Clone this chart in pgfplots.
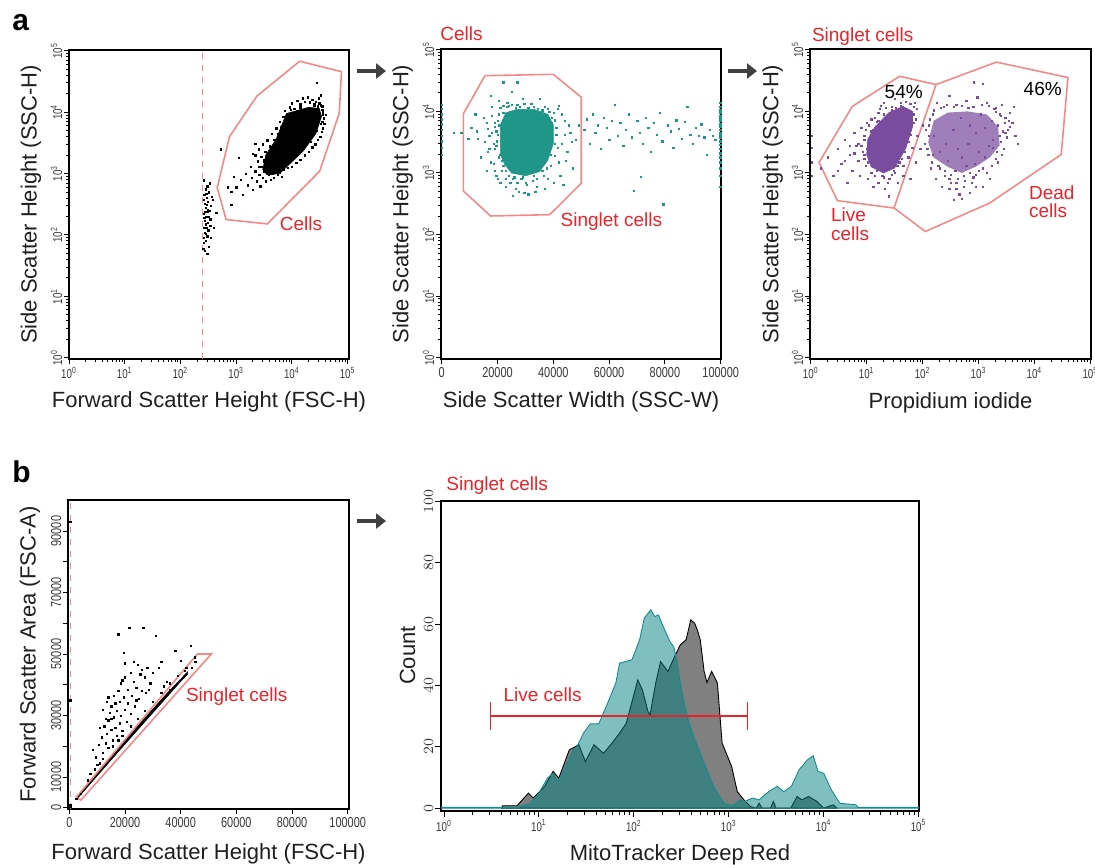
\documentclass[border=0pt]{standalone}
\usepackage{fontspec}
\setmainfont{Liberation Sans}
\newfontfamily\narrow[FakeStretch=0.76]{Liberation Sans}
\usepackage{pgfplots}
\pgfplotsset{compat=1.18}
\usetikzlibrary{arrows.meta}

\definecolor{gate}{RGB}{242,138,138}
\definecolor{lab}{RGB}{236,34,42}
\definecolor{tealpt}{RGB}{30,150,136}
\definecolor{purp}{RGB}{122,76,160}
\definecolor{hteal}{RGB}{0,128,128}
\definecolor{hedge}{RGB}{20,140,140}
\definecolor{hgray}{RGB}{128,128,128}
\definecolor{arr}{RGB}{64,64,64}

\newcommand\lt[1]{10\textsuperscript{#1}}

\pgfplotsset{
  flow/.style={
    scale only axis, anchor=south west, scaled ticks=false,
    axis line style={line width=0.9pt},
    tick align=outside, tick pos=left,
    major tick length=2.6pt, minor tick length=1.5pt,
    every tick/.append style={line width=0.45pt, black},
    tick label style={font=\narrow\fontsize{7.2}{7.2}\selectfont, text=black!78},
    yticklabel style={rotate=90, anchor=south, inner sep=0.6pt},
    xticklabel style={inner sep=1.2pt},
    label style={font=\fontsize{11}{11}\selectfont, text=black!88, inner sep=0pt},
    xlabel style={at={(axis description cs:0.5,0)}, anchor=north},
    ylabel style={anchor=south},
  },
  pts/.style={only marks, mark=square*, mark size=0.33pt, mark options={line width=0.15pt}},
  gline/.style={gate, line width=0.8pt, mark=none},
}

\begin{document}
\begin{tikzpicture}
\path[use as bounding box] (0,0) rectangle (547.5pt,-432pt);

% panel letters and arrows
\node[anchor=base west, inner sep=0, font=\bfseries\fontsize{15}{15}\selectfont] at (6pt,-15pt) {a};
\node[anchor=base west, inner sep=0, font=\bfseries\fontsize{15}{15}\selectfont] at (6pt,-241pt) {b};
\draw[arr, line width=2pt, -{Triangle[length=5pt,width=7.5pt]}] (178.5pt,-35.5pt) -- (193pt,-35.5pt);
\draw[arr, line width=2pt, -{Triangle[length=5pt,width=7.5pt]}] (364pt,-35.5pt) -- (378.5pt,-35.5pt);
\draw[arr, line width=2pt, -{Triangle[length=5pt,width=7.5pt]}] (178.5pt,-260.5pt) -- (193pt,-260.5pt);

% titles
\node[lab, anchor=base west, inner sep=0, font=\fontsize{9.5}{9.5}\selectfont] at (220pt,-20pt) {Cells};
\node[lab, anchor=base west, inner sep=0, font=\fontsize{9.5}{9.5}\selectfont] at (405.8pt,-20.5pt) {Singlet cells};
\node[lab, anchor=base west, inner sep=0, font=\fontsize{9.5}{9.5}\selectfont] at (223pt,-245pt) {Singlet cells};

% ===== a1: FSC-H vs SSC-H =====
\begin{axis}[flow, xmode=log, ymode=log, at={(34.5pt,-179.5pt)}, width=140pt, height=154.5pt,
  xmin=1, xmax=1.06e5, ymin=0.95, ymax=1.03e5,
  xtick={1,10,100,1000,10000,100000},
  xticklabels={\lt0,\lt1,\lt2,\lt3,\lt4,\lt5},
  minor xtick={2,3,4,5,6,7,8,9,20,30,40,50,60,70,80,90,200,300,400,500,600,700,800,900,
      2000,3000,4000,5000,6000,7000,8000,9000,20000,30000,40000,50000,60000,70000,80000,90000},
  ytick={1,10,100,1000,10000,100000},
  yticklabels={\lt0,\lt1,\lt2,\lt3,\lt4,\lt5},
  minor ytick={2,3,4,5,6,7,8,9,20,30,40,50,60,70,80,90,200,300,400,500,600,700,800,900,
      2000,3000,4000,5000,6000,7000,8000,9000,20000,30000,40000,50000,60000,70000,80000,90000},
  tick label style={font=\narrow\fontsize{6.4}{6.4}\selectfont},
  xlabel={Forward Scatter Height (FSC-H)}, ylabel={Side Scatter Height (SSC-H)},
  xlabel style={yshift=-16pt}, ylabel style={at={(axis description cs:-0.098,0.5)}}]
\addplot[gate, dashed, line width=0.6pt] coordinates {(250,0.95) (250,1.03e5)};
\addplot[fill=black, draw=black, line width=0.3pt] coordinates {
  (3000,1150) (3600,950) (6000,1000) (8500,1350) (15800,2300) (27000,4500)
  (34000,8500) (31000,11500) (20000,12000) (8000,9500) (5200,3600) (3400,2000) (3000,1150)};
\addplot[pts, black] coordinates {
  (1000,600) (1200,800) (1300,450) (1500,1000) (1600,650) (1800,1300) (1900,850) (2000,550)
  (2200,1100) (2300,750) (2400,1600) (2600,950) (2700,620) (2800,1300) (3000,850) (3100,1700)
  (3200,1100) (3400,750) (3600,1400) (3800,950) (4000,1200) (4200,800) (4400,1000) (4700,850)
  (5000,1100) (5500,950) (6000,1050) (6500,900) (7000,1150)
  (2200,2000) (2500,2500) (2800,1900) (3000,3000) (3300,2300) (3600,3500) (4000,2800)
  (4300,4500) (4800,3600) (5200,5500) (5600,4500) (6000,7000) (6400,5800) (7000,8500)
  (7500,10500) (8200,9000) (9000,12000) (10000,14000) (11000,11500) (12500,15500) (14000,13500)
  (15500,17000) (17000,15000) (19000,17500) (21000,14500) (23000,16000) (25000,13500)
  (27000,15000) (29000,12500) (31000,14000) (33000,13000) (35000,11000) (27500,30000)
  (33000,19000) (30000,17000) (36000,10000) (37000,8000) (38000,6500) (36000,5500)
  (34000,4800) (32000,4000) (29000,3600) (26000,3000) (23000,2700) (20000,2300) (17000,2000)
  (14000,1700) (12000,1500) (10000,1300) (8500,1250) (40000,9000) (35000,7000)
  (520,2500) (810,510) (810,310) (900,900) (700,600) (1100,1800) (2200,3100) (2000,2100)
  (3300,1300) (4500,1300) (6500,1200) (9000,1600) (12000,2000) (16000,2600) (22000,3300)
  (28000,5000) (33000,6500) (36000,9000) (35000,12500) (25000,12800) (14000,12000)
  (9500,11000) (7500,7000) (5800,4200) (4200,2400) (3200,1600) (2600,1300)};
\addplot[pts, black] coordinates {
  (255,60) (262,75) (258,90) (270,110) (265,130) (280,150) (275,170) (290,200) (260,220)
  (300,240) (285,280) (270,320) (310,350) (295,400) (265,450) (320,500) (280,560) (300,620)
  (330,700) (260,780) (350,300) (340,180) (315,120) (300,95) (285,80) (320,65) (275,55)
  (305,160) (290,130) (330,250) (360,420) (310,260) (268,190) (282,105) (296,310) (272,240)
  (340,140) (262,380) (325,200) (288,470) (300,50) (350,90) (380,380) (440,230) (400,130)};
\addplot[gline] coordinates {
  (13804,67608) (77625,45709) (70795,9550) (31623,1096) (3631,151) (661,178)
  (457,589) (759,3981) (2344,18197) (13804,67608)};
\node[lab, anchor=west, inner sep=0, font=\fontsize{9.5}{9.5}\selectfont] at (axis cs:6000,152) {Cells};
\end{axis}

% ===== a2: SSC-W vs SSC-H =====
\begin{axis}[flow, ymode=log, at={(220.5pt,-179.5pt)}, width=140pt, height=155pt,
  xmin=-250, xmax=100100, ymin=0.95, ymax=1.03e5,
  xtick={0,20000,40000,60000,80000,100000},
  xticklabels={0,20000,40000,60000,80000,100000},
  ytick={1,10,100,1000,10000,100000},
  yticklabels={\lt0,\lt1,\lt2,\lt3,\lt4,\lt5},
  minor ytick={2,3,4,5,6,7,8,9,20,30,40,50,60,70,80,90,200,300,400,500,600,700,800,900,
      2000,3000,4000,5000,6000,7000,8000,9000,20000,30000,40000,50000,60000,70000,80000,90000},
  yticklabel style={font=\narrow\fontsize{6.4}{6.4}\selectfont},
  xlabel={Side Scatter Width (SSC-W)}, ylabel={Side Scatter Height (SSC-H)},
  xlabel style={yshift=-16.3pt}, ylabel style={at={(axis description cs:-0.099,0.5)}}]
\addplot[fill=tealpt, draw=tealpt, line width=0.3pt] coordinates {
  (21000,2000) (21000,6000) (23000,9500) (27000,10800) (33000,10800) (38000,9000) (40000,6000)
  (40000,3000) (38000,1600) (35000,1050) (30000,900) (25000,1000) (22500,1400) (21000,2000)};
\addplot[pts, tealpt] coordinates {
  (13000,3600) (15000,8000) (16500,5200) (17000,2500) (18000,12000) (18500,1400) (19000,6500)
  (19500,900) (20000,4200) (20500,15000) (21000,2000) (21500,1100) (22000,9500) (23000,600)
  (23500,14000) (24000,1500) (24500,700) (25000,21000) (26000,850) (27000,13000) (27500,500)
  (28000,1200) (29000,16000) (30000,700) (31000,450) (32000,13500) (33000,900) (34000,600)
  (35000,16000) (36000,1100) (37000,12000) (38000,800) (39000,2000) (40000,9500) (41000,5500)
  (42000,1500) (43000,3000) (44000,7000) (45000,2200) (46000,4500) (47000,1200) (48000,3500)
  (49000,6000) (41500,11000) (43500,650) (12000,9000) (10500,5500) (14000,1800) (16000,1100)
  (17500,18000) (22000,30000) (27000,30000) (20000,800) (25500,430) (12500,4800) (9500,3600)
  (7000,4500) (4300,4500) (19500,2800) (20500,6000) (39500,6500) (40500,3000) (38000,11000)
  (24000,12500) (35000,1500) (28500,800) (31500,1100) (22500,2600) (18000,4500)
  (19000,2500) (19500,4800) (20000,7000) (20500,9000) (21000,11500) (22000,12500) (23500,11800)
  (25000,12800) (26500,11500) (28000,12000) (29500,13500) (31000,11500) (33000,12000)
  (34500,11200) (36000,10500) (38500,9800) (39500,8000) (40500,7200) (41000,4200) (41500,2600)
  (40500,1900) (39000,1300) (37500,1200) (36500,900) (34000,800) (32500,750) (30500,650)
  (29000,850) (27000,700) (25500,800) (24000,900) (23000,1100) (22000,1300) (21500,1600)
  (20500,1800) (19800,3300) (19000,5600) (18500,3000) (18000,8500) (17000,4000) (16000,6500)
  (16500,2200) (15500,3200) (44000,4200) (43000,9000) (42000,12500) (45500,6000) (46500,3200)
  (44500,1600) (42500,900) (40000,700) (37000,550) (33500,500) (29500,480) (26500,560)
  (23000,800) (21000,700) (19000,1100) (17500,1500)
  (51000,5000) (52000,7500) (53000,3000) (54000,9000) (55000,4500) (56000,6000) (57000,2500)
  (58000,8000) (59000,5500) (60000,3500) (61000,7000) (62000,13000) (63000,4000) (64000,6500)
  (65000,2800) (66000,5000) (67000,9000) (68000,3800) (68700,515) (70000,7000) (71000,4500)
  (71400,870) (72000,3000) (73000,8000) (74000,5500) (75000,2200) (76000,6500) (77000,4200)
  (78000,9500) (79000,3300) (79400,310) (81000,6000) (82000,4800) (83000,2600) (84000,7200)
  (85000,5200) (86000,3600) (87000,6800) (88000,12000) (89000,4200) (90000,3000) (91000,5500)
  (92000,4000) (93000,6200) (94000,3800) (95000,2000) (96000,5000) (97000,4000) (98000,3500)};
\addplot[pts, tealpt] coordinates {
  (99800,600) (99800,900) (99800,1200) (99800,1500) (99800,1800) (99800,2100) (99800,2500)
  (99800,2900) (99800,3300) (99800,3700) (99800,4100) (99800,4500) (99800,5000) (99800,5600)
  (99800,6200) (99800,7000) (99800,7800) (99800,8600) (99800,9500) (99800,10500) (99800,12000)
  (99800,14000)
  (-100,2000) (-100,2600) (-100,3300) (-100,4000) (-100,5000) (-100,6200) (-100,7500)
  (-100,9000) (-100,11000) (-100,13000)};
\addplot[gline] coordinates {
  (15500,38000) (40000,40000) (50000,17000) (50000,680) (38700,210) (17500,200)
  (7750,510) (7750,9100) (15500,38000)};
\node[lab, anchor=west, inner sep=0, font=\fontsize{9.5}{9.5}\selectfont] at (axis cs:42500,163) {Singlet cells};
\end{axis}

% ===== a3: PI vs SSC-H =====
\begin{axis}[flow, xmode=log, ymode=log, at={(405pt,-179.5pt)}, width=140.5pt, height=155pt,
  xmin=0.97, xmax=1.03e5, ymin=0.95, ymax=1.03e5,
  xtick={1,10,100,1000,10000,100000},
  xticklabels={\lt0,\lt1,\lt2,\lt3,\lt4,\lt5},
  minor xtick={2,3,4,5,6,7,8,9,20,30,40,50,60,70,80,90,200,300,400,500,600,700,800,900,
      2000,3000,4000,5000,6000,7000,8000,9000,20000,30000,40000,50000,60000,70000,80000,90000},
  ytick={1,10,100,1000,10000,100000},
  yticklabels={\lt0,\lt1,\lt2,\lt3,\lt4,\lt5},
  minor ytick={2,3,4,5,6,7,8,9,20,30,40,50,60,70,80,90,200,300,400,500,600,700,800,900,
      2000,3000,4000,5000,6000,7000,8000,9000,20000,30000,40000,50000,60000,70000,80000,90000},
  tick label style={font=\narrow\fontsize{6.4}{6.4}\selectfont},
  xlabel={Propidium iodide}, ylabel={Side Scatter Height (SSC-H)},
  xlabel style={yshift=-16.5pt}, ylabel style={at={(axis description cs:-0.095,0.5)}}]
\addplot[fill=purp, draw=purp, line width=0.3pt] coordinates {
  (10,1995) (12,1259) (20,1000) (31.6,1202) (50.1,2512) (66.1,5623) (66.1,10000)
  (44.7,12023) (25.1,9550) (14.1,5623) (10.5,3548) (10,1995)};
\addplot[fill=purp, fill opacity=0.72, draw=none] coordinates {
  (126,3162) (158,7079) (282,9550) (631,10000) (1413,8913) (2239,5623) (2399,2818)
  (1585,1778) (891,1259) (501,1000) (282,1259) (158,1778) (126,3162)};
\addplot[pts, purp] coordinates {
  (1.05,900) (1.05,1500) (1.05,2600) (1.05,4000) (1.5,1200) (2.0,1800) (2.5,900) (3.0,2500)
  (3.5,1400) (4,3500) (4.5,700) (5,2000) (5.5,1100) (6,4500) (6.5,2800) (7,1600) (7.5,900)
  (8,5500) (8.5,2200) (9,3500) (9.5,1300) (10,6500) (10.5,800) (11,2700) (12,4800) (13,600)
  (14,8000) (15,1900) (16,700) (17,11000) (18,4200) (19,900) (20,14000) (21,560) (22,2500)
  (24,7000) (26,800) (28,12000) (30,1100) (32,16000) (34,4500) (36,700) (38,2000) (40,14000)
  (42,6000) (45,1300) (48,9000) (50,3000) (55,1800) (60,5000) (65,2600) (70,9000) (75,1500)
  (80,4000) (90,2500) (100,6000) (60,800) (25,420) (11,1800) (13,3000) (16,2200) (19,6000)
  (26,9500) (30,2400) (45,4200) (52,6500) (70,12000) (9,2000) (12,1000) (17,1400) (24,1500)
  (35,1900) (44,2600)
  (8,2800) (9,4000) (9.5,5000) (10,2500) (10.5,1500) (11,6000) (12,7500) (13,1300) (14,900)
  (15,6800) (16,9500) (18,12500) (20,850) (22,11500) (25,800) (28,950) (32,1000) (35,1300)
  (38,1500) (42,1700) (48,2200) (55,3200) (60,4200) (68,6500) (75,7500) (78,11000) (72,14000)
  (60,13500) (50,14500) (40,12500) (33,11500) (28,10500) (20,9000) (16,7000) (13,5000)
  (11,3500) (9,1700) (15,1100) (24,700) (45,900) (7,3000) (6,2100) (5,2800) (4,1600) (3,1100)};
\addplot[pts, purp] coordinates {
  (120,2500) (130,6000) (140,1200) (150,9000) (160,4000) (170,800) (180,14000) (200,2200)
  (220,600) (240,12000) (260,3000) (280,1600) (300,18000) (320,700) (350,5000) (380,1100)
  (400,13000) (420,2500) (450,450) (480,8000) (500,1800) (550,900) (600,15000) (650,3000)
  (700,6000) (750,700) (800,12000) (850,1400) (900,4500) (950,17000) (1000,2200) (1100,9000)
  (1200,1200) (1300,5500) (1400,14000) (1500,2800) (1600,800) (1700,7000) (1800,3500)
  (1900,11000) (2000,1700) (2200,6000) (2400,4000) (2600,13000) (2800,2500) (3000,8000)
  (3300,5000) (3600,9500) (4000,6500) (4500,4000) (5000,3000) (300,550) (500,380) (700,1000)
  (400,700) (810,30000) (4300,12000) (3600,5600) (355,365) (1200,28000) (250,900) (600,1300)
  (900,950) (1300,1800) (2600,2000) (2000,10000) (1500,12500) (3000,4500) (2500,8500)
  (110,3000) (115,5000) (125,2000) (135,7500) (145,1500) (160,10500) (190,1300) (210,11500)
  (250,1100) (270,13000) (320,950) (360,12000) (420,800) (500,12500) (560,750) (650,11500)
  (800,850) (1000,1100) (1150,13000) (1400,1000) (1700,1300) (2100,2200) (2500,3200)
  (2700,4800) (2900,6500) (2400,9000) (2000,11500) (1800,2600) (2200,1500) (1200,600)
  (900,600) (700,480) (550,600) (400,550) (300,800) (200,1200) (150,2000) (130,4000)
  (3200,3800) (3500,7000)};
\addplot[gline] coordinates {
  (38.9,37154) (174,27227) (30.9,269) (2.99,355) (1.41,1479) (5.52,12023) (38.9,37154)};
\addplot[gline] coordinates {
  (174,27227) (2089,63096) (39811,35481) (30200,1995) (1585,324) (112,112) (30.9,269)};
\node[inner sep=0, font=\fontsize{9.5}{9.5}\selectfont] at (axis cs:46,20400) {54\%};
\node[inner sep=0, font=\fontsize{9.5}{9.5}\selectfont] at (axis cs:14100,23300) {46\%};
\node[lab, anchor=north west, align=left, inner sep=0, font=\fontsize{9.5}{9.2}\selectfont] at (axis cs:2.27,275) {Live\\cells};
\node[lab, anchor=north west, align=left, inner sep=0, font=\fontsize{9.5}{9.2}\selectfont] at (axis cs:7900,640) {Dead\\cells};
\end{axis}

% ===== b1: FSC-H vs FSC-A =====
\begin{axis}[flow, at={(34pt,-404.5pt)}, width=140.5pt, height=154.5pt,
  xmin=-470, xmax=100470, ymin=-420, ymax=100100,
  xtick={0,20000,40000,60000,80000,100000},
  xticklabels={0,20000,40000,60000,80000,100000},
  ytick={0,10000,20000,30000,40000,50000,60000,70000,80000,90000},
  yticklabels={0,10000,,30000,,50000,,70000,,90000},
  xlabel={Forward Scatter Height (FSC-H)}, ylabel={Forward Scatter Area (FSC-A)},
  xlabel style={yshift=-17pt}, ylabel style={at={(axis description cs:-0.098,0.5)}}]
\addplot[gate, dashed, line width=0.5pt] coordinates {(250,-420) (250,100100)};
\addplot[fill=black, draw=black, line width=0.3pt] coordinates {
  (2500,2600) (10000,10400) (20000,20700) (30000,30900) (40000,41100) (42500,43400)
  (42500,44200) (35000,37100) (25000,27000) (15000,16700) (8000,9400) (2500,3300) (2500,2600)};
\addplot[pts, black] coordinates {
  (8500,19000) (9500,16500) (10500,20500) (11000,14500) (11500,23000) (12000,18000)
  (12500,26500) (13000,21000) (13000,29000) (13500,24000) (14000,28500) (14000,19500)
  (14500,31000) (15000,25500) (15000,33000) (15500,22000) (16000,29500) (16000,36500)
  (16500,26000) (17000,31500) (17000,23500) (17500,38000) (17500,56500) (18000,27500)
  (18000,34500) (18500,30000) (19000,41500) (19000,25000) (19500,36000) (19500,50500)
  (20000,32000) (20000,47000) (20500,28000) (21000,38500) (21000,34000) (21500,58500)
  (22000,44000) (22000,30500) (22500,36500) (23000,47500) (23000,41000) (23500,33000)
  (24000,39000) (24500,46500) (25000,35500) (25500,43500) (26000,38000) (26500,58500)
  (27000,42500) (27500,37500) (28000,45500) (29000,40500) (30000,44000) (31000,56000)
  (32000,45500) (33000,47500) (34000,39500) (35000,41000) (36000,38500) (38000,51000)
  (40000,47800) (41500,44500) (43500,52800) (45000,49000) (12000,32000) (14000,36000)
  (15000,29000) (16500,34000) (18500,40500) (20000,42500) (24000,35000) (26000,45000)
  (28500,38500) (11000,26000) (13500,34500) (9000,12500) (10000,14000) (7500,11000)
  (6500,9000) (12000,16000) (15500,20000) (17500,22000) (19000,23500) (22000,26500)
  (24500,29000) (27000,31500) (30000,34500) (33000,37500) (36000,40500) (39000,43000)
  (42000,45500) (2500,3000) (4000,4600) (44000,45500) (45200,47600)
  (300,93000) (300,35000) (300,1000) (300,300)};
\addplot[gline] coordinates {(2400,3300) (46000,50000) (51000,50000) (4200,2500) (2400,3300)};
\node[lab, anchor=west, inner sep=0, font=\fontsize{9.5}{9.5}\selectfont] at (axis cs:41800,36100) {Singlet cells};
\end{axis}

% ===== b2: MitoTracker histogram =====
\begin{axis}[flow, xmode=log, at={(220.5pt,-405.3pt)}, width=239pt, height=155pt,
  xmin=0.93, xmax=1.01e5, ymin=-0.8, ymax=100.3,
  xtick={1,10,100,1000,10000,100000},
  xticklabels={\lt0,\lt1,\lt2,\lt3,\lt4,\lt5},
  minor xtick={2,3,4,5,6,7,8,9,20,30,40,50,60,70,80,90,200,300,400,500,600,700,800,900,
      2000,3000,4000,5000,6000,7000,8000,9000,20000,30000,40000,50000,60000,70000,80000,90000},
  xticklabel style={font=\narrow\fontsize{6.4}{6.4}\selectfont},
  ytick={0,20,40,60,80,100},
  major tick length=3.2pt, minor tick length=2.2pt,
  xlabel={MitoTracker Deep Red}, ylabel={Count},
  xlabel style={yshift=-17pt}, ylabel style={at={(axis description cs:-0.053,0.5)}}]
\addplot[fill=hgray, draw=black, line width=0.45pt] coordinates {
  (4.0,0) (4.17,0.8) (5.89,0.8) (6.46,2.2) (7.76,4.9) (8.71,3.3) (11.5,7.1) (14.1,12)
  (16.2,9.8) (20.9,19) (26.3,20.7) (30.9,15.2) (38.0,20.7) (47.9,17.9) (58.9,21.2) (70.8,24.5)
  (83.2,27.7) (110,41.8) (123,38.6) (141,31.5) (148,30.4) (170,40.8) (191,47.8) (229,44.6)
  (269,49.5) (309,53.3) (355,54.9) (398,61.4) (437,60.3) (468,58) (501,54.9) (550,44.6)
  (589,41) (661,44.6) (759,40.8) (851,21.2) (1072,13.6) (1230,5.4) (1445,2.7) (1698,0.5)
  (1950,0) (2090,1.6) (2240,0) (2750,0) (2950,2.2) (3150,0) (4500,0) (5248,3.8) (5888,2.7)
  (6918,3.8) (8511,2.2) (10000,0) (12600,1.1) (13800,0) (4.0,0)};
\addplot[fill=hteal, fill opacity=0.5, draw=hedge, line width=0.45pt] coordinates {
  (0.93,0) (0.93,0.3) (6.0,0.3) (8.13,1.6) (10,4.9) (12.3,9.8) (14.1,11.4) (15.8,8.7)
  (17.8,11.6) (22.9,19) (25.1,20) (29.5,24.5) (34.7,27.5) (42.7,27.5) (51.3,33.2) (64.6,40.8)
  (70.8,47.3) (81.3,47.8) (95.5,48.4) (115,54.9) (129,62) (151,64.7) (166,62.5) (182,63)
  (204,59.2) (240,54.3) (263,52.7) (282,48.4) (324,37) (380,28) (427,23.4) (550,14.7)
  (692,7.1) (891,1.6) (1100,0.8) (1318,2.7) (1479,2.2) (1778,3.3) (2089,2.7) (2630,5.4)
  (3236,7.1) (3802,5.4) (4571,7.1) (5495,12.5) (6761,15.8) (7762,17.1) (8710,12) (10000,11.4)
  (12023,6) (14791,1.6) (21878,1.1) (22900,0.3) (1.01e5,0.3) (1.01e5,0) (0.93,0)};
\addplot[lab, line width=0.8pt] coordinates {(3.1,30) (1570,30)};
\addplot[lab, line width=0.8pt] coordinates {(3.1,25.5) (3.1,34.5)};
\addplot[lab, line width=0.8pt] coordinates {(1570,25.5) (1570,34.5)};
\node[lab, anchor=west, inner sep=0, font=\fontsize{9.5}{9.5}\selectfont] at (axis cs:4.2,37) {Live cells};
\end{axis}
\end{tikzpicture}
\end{document}
